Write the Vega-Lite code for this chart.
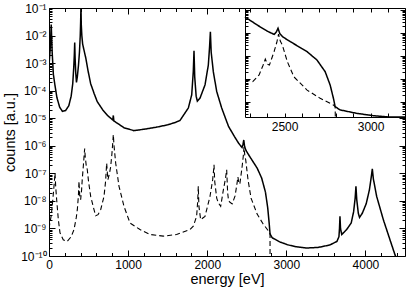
{
"$schema": "https://vega.github.io/schema/vega-lite/v6.json",
"width": 356, "height": 248,
"autosize": {"type": "none"},
"padding": {"left": 49, "top": 8, "right": 2, "bottom": 33},
"background": "white",
"view": {"stroke": "black", "strokeWidth": 1},
"config": {"font": "Liberation Sans", "axis": {"grid": false, "tickColor": "black", "tickWidth": 1, "labelColor": "black", "titleColor": "black", "labelFont": "Liberation Sans", "titleFont": "Liberation Sans", "labelFontSize": 12, "titleFontSize": 14.5, "titleFontWeight": "normal", "domainColor": "black"}},
"data": {"values": [
{"series":"A","energy":0,"counts":7.94e-4},{"series":"A","energy":15,"counts":3.16e-3},{"series":"A","energy":28,"counts":2.51e-2},{"series":"A","energy":40,"counts":2.51e-3},{"series":"A","energy":55,"counts":3.98e-4},{"series":"A","energy":75,"counts":1.58e-4},{"series":"A","energy":100,"counts":5.62e-5},{"series":"A","energy":135,"counts":2.51e-5},{"series":"A","energy":170,"counts":1.78e-5},{"series":"A","energy":210,"counts":1.9e-5},{"series":"A","energy":250,"counts":2.82e-5},{"series":"A","energy":280,"counts":6.31e-5},{"series":"A","energy":300,"counts":1.78e-4},{"series":"A","energy":312,"counts":6.31e-4},{"series":"A","energy":320,"counts":2.0e-3},{"series":"A","energy":325,"counts":5.62e-3},{"series":"A","energy":330,"counts":1.58e-3},{"series":"A","energy":338,"counts":4.47e-4},{"series":"A","energy":347,"counts":2.0e-4},{"series":"A","energy":358,"counts":3.16e-4},{"series":"A","energy":372,"counts":7.94e-4},{"series":"A","energy":385,"counts":2.51e-3},{"series":"A","energy":395,"counts":1.0e-2},{"series":"A","energy":400,"counts":3.16e-2},{"series":"A","energy":404,"counts":0.12},{"series":"A","energy":408,"counts":2.51e-2},{"series":"A","energy":415,"counts":1.0e-2},{"series":"A","energy":425,"counts":5.01e-3},{"series":"A","energy":440,"counts":3.16e-3},{"series":"A","energy":464,"counts":1.58e-3},{"series":"A","energy":495,"counts":5.01e-4},{"series":"A","energy":527,"counts":1.78e-4},{"series":"A","energy":570,"counts":7.94e-5},{"series":"A","energy":610,"counts":3.98e-5},{"series":"A","energy":680,"counts":2.0e-5},{"series":"A","energy":740,"counts":1.26e-5},{"series":"A","energy":800,"counts":8.91e-6},{"series":"A","energy":806,"counts":8.7e-6},{"series":"A","energy":813,"counts":1.26e-5},{"series":"A","energy":820,"counts":7.94e-6},{"series":"A","energy":863,"counts":6.61e-6},{"series":"A","energy":950,"counts":4.47e-6},{"series":"A","energy":1074,"counts":3.55e-6},{"series":"A","energy":1200,"counts":3.98e-6},{"series":"A","energy":1350,"counts":4.68e-6},{"series":"A","energy":1500,"counts":5.75e-6},{"series":"A","energy":1600,"counts":7.08e-6},{"series":"A","energy":1656,"counts":8.3e-6},{"series":"A","energy":1761,"counts":2.34e-5},{"series":"A","energy":1804,"counts":7.08e-5},{"series":"A","energy":1824,"counts":5.01e-4},{"series":"A","energy":1833,"counts":2.82e-3},{"series":"A","energy":1842,"counts":3.16e-4},{"series":"A","energy":1860,"counts":6.31e-5},{"series":"A","energy":1875,"counts":4.17e-5},{"series":"A","energy":1909,"counts":5.37e-5},{"series":"A","energy":1972,"counts":1.62e-4},{"series":"A","energy":2014,"counts":8.51e-4},{"series":"A","energy":2030,"counts":3.98e-3},{"series":"A","energy":2040,"counts":1.38e-2},{"series":"A","energy":2050,"counts":2.51e-3},{"series":"A","energy":2077,"counts":4.9e-4},{"series":"A","energy":2120,"counts":9.33e-5},{"series":"A","energy":2183,"counts":2.34e-5},{"series":"A","energy":2246,"counts":7.59e-6},{"series":"A","energy":2270,"counts":5.01e-6},{"series":"A","energy":2343,"counts":2.19e-6},{"series":"A","energy":2400,"counts":1.2e-6},{"series":"A","energy":2440,"counts":8.71e-7},{"series":"A","energy":2452,"counts":1.12e-6},{"series":"A","energy":2462,"counts":1.62e-6},{"series":"A","energy":2472,"counts":9.55e-7},{"series":"A","energy":2490,"counts":6.76e-7},{"series":"A","energy":2535,"counts":4.17e-7},{"series":"A","energy":2631,"counts":1.55e-7},{"series":"A","energy":2688,"counts":6.76e-8},{"series":"A","energy":2736,"counts":2.09e-8},{"series":"A","energy":2765,"counts":5.5e-9},{"series":"A","energy":2784,"counts":1.45e-9},{"series":"A","energy":2794,"counts":6.31e-10},{"series":"A","energy":2822,"counts":4.57e-10},{"series":"A","energy":2918,"counts":3.24e-10},{"series":"A","energy":3014,"counts":2.57e-10},{"series":"A","energy":3110,"counts":2.19e-10},{"series":"A","energy":3250,"counts":1.95e-10},{"series":"A","energy":3400,"counts":2.04e-10},{"series":"A","energy":3550,"counts":2.51e-10},{"series":"A","energy":3640,"counts":3.39e-10},{"series":"A","energy":3665,"counts":5.01e-10},{"series":"A","energy":3672,"counts":1.0e-9},{"series":"A","energy":3678,"counts":2.75e-9},{"series":"A","energy":3685,"counts":1.0e-9},{"series":"A","energy":3700,"counts":6.03e-10},{"series":"A","energy":3760,"counts":8.91e-10},{"series":"A","energy":3820,"counts":1.58e-9},{"series":"A","energy":3850,"counts":3.98e-9},{"series":"A","energy":3870,"counts":1.26e-8},{"series":"A","energy":3880,"counts":3.39e-8},{"series":"A","energy":3890,"counts":1.12e-8},{"series":"A","energy":3910,"counts":3.55e-9},{"series":"A","energy":3925,"counts":2.51e-9},{"series":"A","energy":3960,"counts":3.55e-9},{"series":"A","energy":4010,"counts":7.94e-9},{"series":"A","energy":4050,"counts":2.51e-8},{"series":"A","energy":4075,"counts":7.94e-8},{"series":"A","energy":4087,"counts":1.45e-7},{"series":"A","energy":4100,"counts":6.31e-8},{"series":"A","energy":4142,"counts":1.45e-8},{"series":"A","energy":4226,"counts":2.09e-9},{"series":"A","energy":4310,"counts":3.89e-10},{"series":"A","energy":4373,"counts":1.12e-10},{"series":"A","energy":4420,"counts":5.01e-11},{"series":"A","energy":4500,"counts":1e-11},
{"series":"B","energy":0,"counts":1.0e-9},{"series":"B","energy":30,"counts":3.16e-9},{"series":"B","energy":50,"counts":1.26e-8},{"series":"B","energy":65,"counts":3.98e-8},{"series":"B","energy":76,"counts":1.02e-7},{"series":"B","energy":85,"counts":3.16e-8},{"series":"B","energy":97,"counts":1.1e-8},{"series":"B","energy":118,"counts":2.09e-9},{"series":"B","energy":139,"counts":6.92e-10},{"series":"B","energy":180,"counts":3.89e-10},{"series":"B","energy":230,"counts":3.39e-10},{"series":"B","energy":280,"counts":5.01e-10},{"series":"B","energy":316,"counts":9.12e-10},{"series":"B","energy":345,"counts":2.51e-9},{"series":"B","energy":358,"counts":4.79e-9},{"series":"B","energy":372,"counts":1.58e-8},{"series":"B","energy":379,"counts":5.13e-8},{"series":"B","energy":388,"counts":1.58e-8},{"series":"B","energy":400,"counts":1.1e-8},{"series":"B","energy":412,"counts":2.51e-8},{"series":"B","energy":420,"counts":5.89e-8},{"series":"B","energy":435,"counts":2.0e-7},{"series":"B","energy":445,"counts":5.01e-7},{"series":"B","energy":451,"counts":7.94e-7},{"series":"B","energy":458,"counts":3.98e-7},{"series":"B","energy":470,"counts":2.0e-7},{"series":"B","energy":484,"counts":1.35e-7},{"series":"B","energy":500,"counts":5.01e-8},{"series":"B","energy":527,"counts":1.45e-8},{"series":"B","energy":569,"counts":4.79e-9},{"series":"B","energy":590,"counts":2.88e-9},{"series":"B","energy":620,"counts":3.16e-9},{"series":"B","energy":653,"counts":4.79e-9},{"series":"B","energy":695,"counts":1.45e-8},{"series":"B","energy":715,"counts":5.01e-8},{"series":"B","energy":729,"counts":2.34e-7},{"series":"B","energy":738,"counts":1.0e-7},{"series":"B","energy":745,"counts":5.89e-8},{"series":"B","energy":765,"counts":1.0e-7},{"series":"B","energy":780,"counts":1.78e-7},{"series":"B","energy":795,"counts":5.01e-7},{"series":"B","energy":806,"counts":1.26e-6},{"series":"B","energy":813,"counts":2.51e-6},{"series":"B","energy":822,"counts":1.0e-6},{"series":"B","energy":843,"counts":2.34e-7},{"series":"B","energy":885,"counts":3.39e-8},{"series":"B","energy":948,"counts":6.31e-9},{"series":"B","energy":1024,"counts":1.58e-9},{"series":"B","energy":1150,"counts":9.12e-10},{"series":"B","energy":1276,"counts":6.03e-10},{"series":"B","energy":1445,"counts":5.25e-10},{"series":"B","energy":1613,"counts":6.03e-10},{"series":"B","energy":1782,"counts":9.12e-10},{"series":"B","energy":1824,"counts":1.2e-9},{"series":"B","energy":1866,"counts":2.75e-9},{"series":"B","energy":1880,"counts":1.0e-8},{"series":"B","energy":1887,"counts":3.39e-8},{"series":"B","energy":1895,"counts":6.31e-9},{"series":"B","energy":1917,"counts":2.09e-9},{"series":"B","energy":1972,"counts":2.75e-9},{"series":"B","energy":2035,"counts":1.45e-8},{"series":"B","energy":2069,"counts":5.89e-8},{"series":"B","energy":2080,"counts":1.26e-7},{"series":"B","energy":2086,"counts":2.04e-7},{"series":"B","energy":2095,"counts":5.01e-8},{"series":"B","energy":2120,"counts":1.26e-8},{"series":"B","energy":2140,"counts":8.51e-9},{"series":"B","energy":2170,"counts":6.31e-9},{"series":"B","energy":2204,"counts":2.51e-8},{"series":"B","energy":2230,"counts":6.31e-8},{"series":"B","energy":2246,"counts":1.35e-7},{"series":"B","energy":2258,"counts":2.0e-8},{"series":"B","energy":2270,"counts":1.0e-8},{"series":"B","energy":2288,"counts":8.9e-9},{"series":"B","energy":2315,"counts":7.76e-9},{"series":"B","energy":2352,"counts":1.51e-8},{"series":"B","energy":2375,"counts":3.98e-8},{"series":"B","energy":2388,"counts":7.41e-8},{"series":"B","energy":2400,"counts":4.47e-8},{"series":"B","energy":2412,"counts":4.07e-8},{"series":"B","energy":2439,"counts":1.55e-7},{"series":"B","energy":2455,"counts":3.98e-7},{"series":"B","energy":2465,"counts":8.91e-7},{"series":"B","energy":2475,"counts":4.47e-7},{"series":"B","energy":2487,"counts":3.02e-7},{"series":"B","energy":2516,"counts":5.75e-8},{"series":"B","energy":2554,"counts":1.26e-8},{"series":"B","energy":2631,"counts":3.31e-9},{"series":"B","energy":2707,"counts":1.45e-9},{"series":"B","energy":2784,"counts":7.41e-10},{"series":"B","energy":2794,"counts":6.31e-10},{"series":"B","energy":2795,"counts":1e-13}
]},
"layer": [
{
 "mark": {"type": "line", "clip": true, "color": "black"},
 "encoding": {
  "x": {"field": "energy", "type": "quantitative", "scale": {"domain": [0, 4500], "nice": false, "zero": false},
   "axis": {"orient": "bottom", "values": [0, 1000, 2000, 3000, 4000], "format": "d", "ticks": false, "domain": false, "labelPadding": 3, "labelFlush": false, "labelOverlap": false, "title": "energy [eV]", "titleY": 27, "titleBaseline": "alphabetic"}},
  "y": {"field": "counts", "type": "quantitative", "scale": {"type": "log", "domain": [1e-10, 0.1], "nice": false},
   "axis": {"orient": "left", "values": [1e-10, 1e-9, 1e-8, 1e-7, 1e-6, 1e-5, 1e-4, 1e-3, 1e-2, 1e-1], "labelExpr": "'10' + replace(replace(replace(replace(replace(replace(replace(replace(replace(replace(replace(toString(round(log(datum.value)/LN10)),'-','⁻'),'1','¹'),'0','⁰'),'2','²'),'3','³'),'4','⁴'),'5','⁵'),'6','⁶'),'7','⁷'),'8','⁸'),'9','⁹')", "ticks": false, "domain": false, "labelPadding": 3, "labelFlush": false, "labelOverlap": false, "labelBaseline": "middle", "labelDy": 1, "title": "counts [a.u.]", "titleX": -39, "titleY": 124, "titleBaseline": "middle", "titleAngle": -90, "titleAlign": "center"}},
  "strokeDash": {"field": "series", "type": "nominal", "scale": {"domain": ["A", "B"], "range": [[1, 0], [5, 3]]}, "legend": null},
  "strokeWidth": {"field": "series", "type": "nominal", "scale": {"domain": ["A", "B"], "range": [1.5, 1.1]}, "legend": null}
 }
},
{
 "mark": {"type": "point", "opacity": 0},
 "encoding": {
  "x": {"field": "energy", "type": "quantitative", "scale": {"domain": [0, 4500], "nice": false, "zero": false},
   "axis": {"orient": "bottom", "offset": -6, "values": [0, 1000, 2000, 3000, 4000], "labels": false, "ticks": true, "tickSize": 6, "domain": false, "title": null}},
  "y": {"field": "counts", "type": "quantitative", "scale": {"type": "log", "domain": [1e-10, 0.1], "nice": false},
   "axis": {"orient": "left", "offset": -6, "values": [1e-10, 1e-9, 1e-8, 1e-7, 1e-6, 1e-5, 1e-4, 1e-3, 1e-2, 1e-1], "labels": false, "ticks": true, "tickSize": 6, "domain": false, "title": null}}
 }
},
{
 "mark": {"type": "point", "opacity": 0},
 "encoding": {
  "x": {"field": "energy", "type": "quantitative", "scale": {"domain": [0, 4500], "nice": false, "zero": false},
   "axis": {"orient": "bottom", "offset": -3.5, "values": [200, 400, 600, 800, 1200, 1400, 1600, 1800, 2200, 2400, 2600, 2800, 3200, 3400, 3600, 3800, 4200, 4400], "labels": false, "ticks": true, "tickSize": 3.5, "domain": false, "title": null}},
  "y": {"field": "counts", "type": "quantitative", "scale": {"type": "log", "domain": [1e-10, 0.1], "nice": false},
   "axis": {"orient": "left", "offset": -3, "values": [2e-10,3e-10,4e-10,5e-10,6e-10,7e-10,8e-10,9e-10,2e-9,3e-9,4e-9,5e-9,6e-9,7e-9,8e-9,9e-9,2e-8,3e-8,4e-8,5e-8,6e-8,7e-8,8e-8,9e-8,2e-7,3e-7,4e-7,5e-7,6e-7,7e-7,8e-7,9e-7,2e-6,3e-6,4e-6,5e-6,6e-6,7e-6,8e-6,9e-6,2e-5,3e-5,4e-5,5e-5,6e-5,7e-5,8e-5,9e-5,2e-4,3e-4,4e-4,5e-4,6e-4,7e-4,8e-4,9e-4,2e-3,3e-3,4e-3,5e-3,6e-3,7e-3,8e-3,9e-3,2e-2,3e-2,4e-2,5e-2,6e-2,7e-2,8e-2,9e-2], "labels": false, "ticks": true, "tickSize": 3, "domain": false, "title": null}}
 }
},
{
 "mark": {"type": "point", "opacity": 0},
 "encoding": {
  "x": {"field": "energy", "type": "quantitative", "scale": {"domain": [0, 4500], "nice": false, "zero": false},
   "axis": {"orient": "top", "offset": -6, "values": [0, 1000, 2000], "labels": false, "ticks": true, "tickSize": 6, "domain": false, "title": null}},
  "y": {"field": "counts", "type": "quantitative", "scale": {"type": "log", "domain": [1e-10, 0.1], "nice": false},
   "axis": {"orient": "right", "offset": -6, "values": [1e-10, 1e-9, 1e-8, 1e-7, 1e-6, 1e-5], "labels": false, "ticks": true, "tickSize": 6, "domain": false, "title": null}}
 }
},
{
 "mark": {"type": "point", "opacity": 0},
 "encoding": {
  "x": {"field": "energy", "type": "quantitative", "scale": {"domain": [0, 4500], "nice": false, "zero": false},
   "axis": {"orient": "top", "offset": -3.5, "values": [200, 400, 600, 800, 1200, 1400, 1600, 1800, 2200, 2400], "labels": false, "ticks": true, "tickSize": 3.5, "domain": false, "title": null}},
  "y": {"field": "counts", "type": "quantitative", "scale": {"type": "log", "domain": [1e-10, 0.1], "nice": false},
   "axis": {"orient": "right", "offset": -3, "values": [2e-10,3e-10,4e-10,5e-10,6e-10,7e-10,8e-10,9e-10,2e-9,3e-9,4e-9,5e-9,6e-9,7e-9,8e-9,9e-9,2e-8,3e-8,4e-8,5e-8,6e-8,7e-8,8e-8,9e-8,2e-7,3e-7,4e-7,5e-7,6e-7,7e-7,8e-7,9e-7,2e-6,3e-6,4e-6,5e-6,6e-6,7e-6,8e-6,9e-6], "labels": false, "ticks": true, "tickSize": 3, "domain": false, "title": null}}
 }
},
{
 "transform": [{"filter": {"field": "energy", "range": [2270, 3250]}}],
 "mark": {"type": "line", "color": "black"},
 "encoding": {
  "x": {"field": "energy", "type": "quantitative", "scale": {"domain": [2270, 3200], "range": [196, 356], "clamp": true, "nice": false, "zero": false},
   "axis": {"orient": "bottom", "offset": -139, "values": [2500, 3000], "format": "d", "ticks": false, "domain": true, "domainColor": "black", "labelPadding": 4, "labelFlush": false, "labelOverlap": false, "title": null}},
  "y": {"field": "counts", "type": "quantitative", "scale": {"type": "log", "domain": [2.24e-10, 1.23e-5], "range": [109, 0], "clamp": true, "nice": false},
   "axis": {"orient": "left", "offset": -196, "values": [1e-9, 1e-8, 1e-7, 1e-6, 1e-5], "labels": false, "ticks": false, "domain": true, "domainColor": "black", "title": null}},
  "strokeDash": {"field": "series", "type": "nominal", "scale": {"domain": ["A", "B"], "range": [[1, 0], [5, 3]]}, "legend": null},
  "strokeWidth": {"field": "series", "type": "nominal", "scale": {"domain": ["A", "B"], "range": [1.5, 1.1]}, "legend": null}
 }
},
{
 "transform": [{"filter": {"field": "energy", "range": [2270, 3250]}}],
 "mark": {"type": "point", "opacity": 0},
 "encoding": {
  "x": {"field": "energy", "type": "quantitative", "scale": {"domain": [2270, 3200], "range": [196, 356], "clamp": true, "nice": false, "zero": false},
   "axis": {"orient": "bottom", "offset": -143, "values": [2300, 2400, 2500, 2600, 2700, 2800, 2900, 3000, 3100, 3200], "labels": false, "ticks": true, "tickSize": 4, "domain": false, "title": null}},
  "y": {"field": "counts", "type": "quantitative", "scale": {"type": "log", "domain": [2.24e-10, 1.23e-5], "range": [109, 0], "clamp": true, "nice": false},
   "axis": {"orient": "left", "offset": -201, "values": [1e-9, 1e-8, 1e-7, 1e-6, 1e-5], "labels": false, "ticks": true, "tickSize": 5, "domain": false, "title": null}}
 }
},
{
 "transform": [{"filter": {"field": "energy", "range": [2270, 3250]}}],
 "mark": {"type": "point", "opacity": 0},
 "encoding": {
  "x": {"field": "energy", "type": "quantitative", "scale": {"domain": [2270, 3200], "range": [196, 356], "clamp": true, "nice": false, "zero": false},
   "axis": {"orient": "top", "offset": -4, "values": [2300, 2400, 2500, 2600, 2700, 2800, 2900, 3000, 3100, 3200], "labels": false, "ticks": true, "tickSize": 4, "domain": false, "title": null}},
  "y": {"field": "counts", "type": "quantitative", "scale": {"type": "log", "domain": [2.24e-10, 1.23e-5], "range": [109, 0], "clamp": true, "nice": false},
   "axis": {"orient": "right", "offset": -5, "values": [1e-9, 1e-8, 1e-7, 1e-6, 1e-5], "labels": false, "ticks": true, "tickSize": 5, "domain": false, "title": null}}
 }
},
{
 "transform": [{"filter": {"field": "energy", "range": [2270, 3250]}}],
 "mark": {"type": "point", "opacity": 0},
 "encoding": {
  "x": {"field": "energy", "type": "quantitative", "scale": {"domain": [2270, 3200], "range": [196, 356], "clamp": true, "nice": false, "zero": false}, "axis": null},
  "y": {"field": "counts", "type": "quantitative", "scale": {"type": "log", "domain": [2.24e-10, 1.23e-5], "range": [109, 0], "clamp": true, "nice": false},
   "axis": {"orient": "left", "offset": -199, "values": [3e-10,4e-10,5e-10,6e-10,7e-10,8e-10,9e-10,2e-9,3e-9,4e-9,5e-9,6e-9,7e-9,8e-9,9e-9,2e-8,3e-8,4e-8,5e-8,6e-8,7e-8,8e-8,9e-8,2e-7,3e-7,4e-7,5e-7,6e-7,7e-7,8e-7,9e-7,2e-6,3e-6,4e-6,5e-6,6e-6,7e-6,8e-6,9e-6], "labels": false, "ticks": true, "tickSize": 3, "domain": false, "title": null}}
 }
},
{
 "transform": [{"filter": {"field": "energy", "range": [2270, 3250]}}],
 "mark": {"type": "point", "opacity": 0},
 "encoding": {
  "x": {"field": "energy", "type": "quantitative", "scale": {"domain": [2270, 3200], "range": [196, 356], "clamp": true, "nice": false, "zero": false}, "axis": null},
  "y": {"field": "counts", "type": "quantitative", "scale": {"type": "log", "domain": [2.24e-10, 1.23e-5], "range": [109, 0], "clamp": true, "nice": false},
   "axis": {"orient": "right", "offset": -3, "values": [3e-10,4e-10,5e-10,6e-10,7e-10,8e-10,9e-10,2e-9,3e-9,4e-9,5e-9,6e-9,7e-9,8e-9,9e-9,2e-8,3e-8,4e-8,5e-8,6e-8,7e-8,8e-8,9e-8,2e-7,3e-7,4e-7,5e-7,6e-7,7e-7,8e-7,9e-7,2e-6,3e-6,4e-6,5e-6,6e-6,7e-6,8e-6,9e-6], "labels": false, "ticks": true, "tickSize": 3, "domain": false, "title": null}}
 }
}
],
"resolve": {"scale": {"x": "independent", "y": "independent"}, "axis": {"x": "independent", "y": "independent"}}
}
